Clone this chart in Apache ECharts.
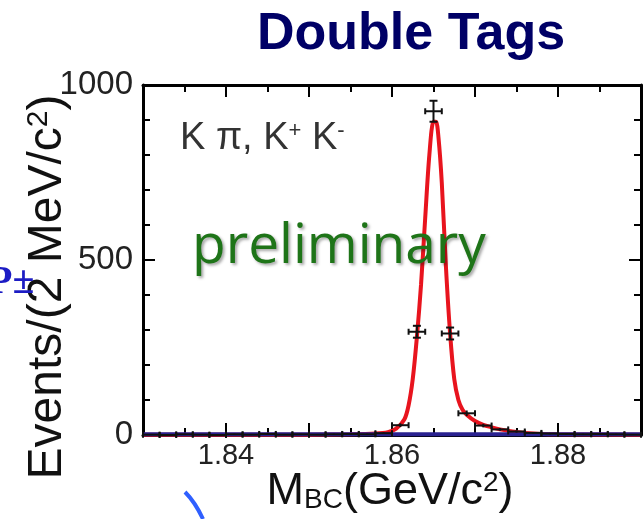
<!DOCTYPE html>
<html><head><meta charset="utf-8">
<script src="https://cdn.jsdelivr.net/npm/echarts@6/dist/echarts.min.js"></script>
<style>html,body{margin:0;padding:0;background:#fff}#c{width:644px;height:519px}</style>
</head><body><div id="c"></div>
<script>
// ---- data ----
const binCenters = [1.831,1.833,1.835,1.837,1.839,1.841,1.843,1.845,1.847,1.849,1.851,1.853,1.855,1.857,1.859,1.861,1.863,1.865,1.867,1.869,1.871,1.873,1.875,1.877,1.879,1.881,1.883,1.885,1.887,1.889];
const binCounts  = [1,0,2,1,0,2,1,3,1,2,1,2,3,2,5,28,295,925,290,62,27,16,10,6,4,3,2,3,2,1];
const binErrors  = [1,0,1.4,1,0,1.4,1,1.7,1,1.4,1,1.4,1.7,1.4,2.2,5.3,17,30,17,8,5.2,4,3.2,2.4,2,1.7,1.4,1.7,1.4,1];
const binHalfWidth = 0.001;
const fitX = [1.830,1.840,1.850,1.855,1.858,1.8595,1.8605,1.8615,1.8620,1.8625,1.8630,1.8635,1.8640,1.8645,1.8650,1.8653,1.8656,1.8660,1.8665,1.8670,1.8675,1.8680,1.8685,1.8690,1.8700,1.8710,1.8720,1.8730,1.8745,1.8760,1.8780,1.8800,1.8900];
const fitY = [1,1,1,2,4,8,18,45,85,160,280,430,620,800,895,895,850,720,480,290,160,100,72,58,40,29,22,16,10,6,3,2,1];
const bgX = [1.830,1.890];
const bgY = [2,2];
const xTickLabels = ['1.84','1.86','1.88'];
const yTickLabels = ['0','500','1000'];

const FONT = '"Liberation Sans", Arial, Helvetica, sans-serif';
const chart = echarts.init(document.getElementById('c'), null, {renderer:'canvas'});

const axisCommon = {
  axisLine:{show:true, onZero:false, lineStyle:{color:'#000', width:3}},
  axisTick:{show:true, inside:true, length:12, lineStyle:{color:'#000', width:2}},
  splitLine:{show:false}
};
const xMinor = {minorTick:{show:true, splitNumber:2, length:7, lineStyle:{color:'#000', width:2}}};
const yMinor = {minorTick:{show:true, splitNumber:5, length:7, lineStyle:{color:'#000', width:2}}};

const option = {
  animation:false,
  backgroundColor:'#fff',
  grid:{left:143, right:3, top:85, bottom:84},
  xAxis:[
    Object.assign({type:'value', min:1.83, max:1.89, interval:0.01, position:'bottom',
      axisLabel:{show:true, margin:6, fontSize:29, fontFamily:FONT, color:'#222',
        formatter:v=>{const s=v.toFixed(2);return xTickLabels.includes(s)?s:'';}}}, axisCommon, xMinor),
    Object.assign({type:'value', min:1.83, max:1.89, interval:0.01, position:'top', axisLabel:{show:false}}, axisCommon, xMinor)
  ],
  yAxis:[
    Object.assign({type:'value', min:0, max:1000, interval:500, position:'left',
      axisLabel:{show:true, margin:10, fontSize:33, fontFamily:FONT, color:'#222',
        formatter:v=>{const s=String(Math.round(v));return yTickLabels.includes(s)?s:'';}}}, axisCommon, yMinor),
    Object.assign({type:'value', min:0, max:1000, interval:500, position:'right', axisLabel:{show:false}}, axisCommon, yMinor)
  ],
  series:[
    {type:'line', name:'fit', data:fitX.map((x,i)=>[x,fitY[i]]), smooth:0.3, showSymbol:false,
     lineStyle:{color:'#e8141e', width:4}, z:2},
    {type:'line', name:'bg', data:bgX.map((x,i)=>[x,bgY[i]]), showSymbol:false,
     lineStyle:{color:'#2a2290', width:4}, z:3},
    {type:'custom', name:'data', z:4,
     data:binCenters.map((x,i)=>[x,binCounts[i],binErrors[i]]),
     renderItem:(params, api)=>{
       const x=api.value(0), y=api.value(1), e=api.value(2);
       const L=api.coord([x-binHalfWidth,y]), R=api.coord([x+binHalfWidth,y]);
       const T=api.coord([x,y+e]), B=api.coord([x,y-e]);
       const st={stroke:'#111', lineWidth:2};
       const ch=[
         {type:'line', shape:{x1:L[0],y1:L[1],x2:R[0],y2:R[1]}, style:st},
         {type:'line', shape:{x1:L[0],y1:L[1]-3,x2:L[0],y2:L[1]+3}, style:st},
         {type:'line', shape:{x1:R[0],y1:R[1]-3,x2:R[0],y2:R[1]+3}, style:st}
       ];
       if (T[1]-B[1] !== 0) {
         ch.push({type:'line', shape:{x1:T[0],y1:T[1],x2:B[0],y2:B[1]}, style:st});
         if (Math.abs(B[1]-T[1])>6) {
           ch.push({type:'line', shape:{x1:T[0]-4,y1:T[1],x2:T[0]+4,y2:T[1]}, style:st});
           ch.push({type:'line', shape:{x1:B[0]-4,y1:B[1],x2:B[0]+4,y2:B[1]}, style:st});
         }
       }
       return {type:'group', children:ch};
     }}
  ],
  graphic:[
    {type:'text', x:257, y:35, style:{text:'Double Tags', fontSize:52, fontWeight:'bold', fontFamily:FONT, fill:'#000066', align:'left', verticalAlign:'middle'}},
    {type:'text', x:48, y:287, rotation:Math.PI/2, style:{
      text:'{a|Events/(2 MeV/c}{s|2}{a|)}', align:'center', verticalAlign:'middle',
      rich:{a:{fontSize:48, fontFamily:FONT, fill:'#111', color:'#111', verticalAlign:'bottom'},
            s:{fontSize:30, fontFamily:FONT, fill:'#111', color:'#111', verticalAlign:'top'}}}},
    {type:'text', x:390, y:492, style:{
      text:'{a|M}{b|BC}{a|(GeV/c}{s|2}{a|)}', align:'center', verticalAlign:'middle',
      rich:{a:{fontSize:45, fontFamily:FONT, fill:'#111', color:'#111', verticalAlign:'middle'},
            b:{fontSize:28, fontFamily:FONT, fill:'#111', color:'#111', verticalAlign:'bottom'},
            s:{fontSize:28, fontFamily:FONT, fill:'#111', color:'#111', verticalAlign:'top'}}}},
    {type:'text', x:180, y:139, style:{
      text:'{a|K π, K}{s|+}{a| K}{s|-}', align:'left', verticalAlign:'middle',
      rich:{a:{fontSize:38, fontFamily:FONT, fill:'#333', color:'#333', verticalAlign:'middle'},
            s:{fontSize:22, fontFamily:FONT, fill:'#333', color:'#333', verticalAlign:'top'}}}},
    {type:'text', x:192, y:247, z:10, style:{text:'preliminary', fontSize:55, fontFamily:'"Open Sans", "Noto Sans", sans-serif',
      fill:'#1e7418', align:'left', verticalAlign:'middle', textShadowColor:'rgba(0,0,0,0.35)', textShadowBlur:3, textShadowOffsetX:2, textShadowOffsetY:2}},
    {type:'text', x:-12, y:283, style:{text:'P±', font:'bold 40px "Liberation Serif", serif', fill:'#1c1cc4', align:'left', verticalAlign:'middle'}},
    {type:'bezierCurve', shape:{x1:185, y1:492, cpx1:195, cpy1:502, x2:203, y2:519}, style:{stroke:'#2f5fff', lineWidth:4, fill:null}}
  ]
};
chart.setOption(option);
</script></body></html>
